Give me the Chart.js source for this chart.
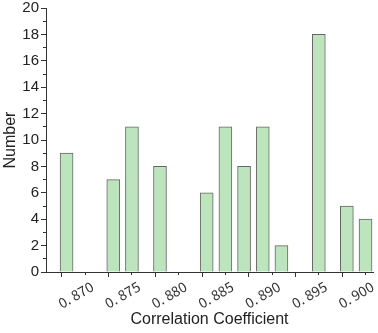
<!DOCTYPE html>
<html>
<head>
<meta charset="utf-8">
<script src="https://cdn.jsdelivr.net/npm/chart.js@4"></script>
<style>
  html, body { margin: 0; padding: 0; background: #fff; }
</style>
</head>
<body>
<canvas id="hist" width="378" height="333"></canvas>
<script>
// bin centres (correlation coefficient) and counts
const coeffs = [0.868, 0.873, 0.875, 0.878, 0.883, 0.885, 0.887, 0.889, 0.891, 0.895, 0.898, 0.900];
const counts = [9, 7, 11, 8, 6, 11, 8, 11, 2, 18, 5, 4];
// labelled x ticks, and the half-step minor ticks between them
const xTicks = [0.870, 0.875, 0.880, 0.885, 0.890, 0.895, 0.900];
const xMinorTicks = [0.8675, 0.8725, 0.8775, 0.8825, 0.8875, 0.8925, 0.8975];
const xMin = 0.8658, xMax = 0.9008;

const points = coeffs.map((c, i) => ({ x: c, y: counts[i] }));

const axisColor = '#333';

const ctx = document.getElementById('hist').getContext('2d');
const hist = new Chart(ctx, {
    type : 'bar',
    data : {
        datasets : [{
            label : 'Number',
            data : points,
            xAxisID : 'x',
            yAxisID : 'y',
            backgroundColor : '#bde5bd',
            borderColor : '#666',
            borderWidth : 1,
            barThickness : 13
        }]
    },
    options : {
        responsive : false,
        animation : false,
        layout : { padding : { top : 8, right : 5, left : 0, bottom : 0 } },
        plugins : { legend : { display : false }, tooltip : { enabled : false } },
        scales : {
            x : {
                type : 'linear',
                position : 'bottom',
                weight : 1,
                min : xMin, max : xMax,
                offset : false,
                border : { color : axisColor, width : 1 },
                grid : { drawOnChartArea : false, tickLength : 5, color : axisColor },
                afterBuildTicks : s => { s.ticks = xTicks.map(v => ({ value : v })); },
                ticks : {
                    minRotation : 30, maxRotation : 30,
                    padding : 1,
                    labelOffset : 7,
                    color : '#333',
                    font : { family : 'Noto Sans CJK SC', size : 14 },
                    callback : v => v.toFixed(3).replace('.', '. ')
                },
                title : {
                    display : true,
                    text : 'Correlation Coefficient',
                    color : '#222',
                    font : { family : 'Liberation Sans', size : 16 },
                    padding : { top : 0, bottom : 4 }
                },
                afterFit : s => { s.height = 61; s.paddingLeft = 0; s.paddingRight = 0; }
            },
            xMinor : {
                type : 'linear',
                position : 'bottom',
                weight : 0,
                min : xMin, max : xMax,
                offset : false,
                border : { display : false },
                grid : { drawOnChartArea : false, tickLength : 3, color : axisColor },
                afterBuildTicks : s => { s.ticks = xMinorTicks.map(v => ({ value : v })); },
                ticks : { display : false },
                afterFit : s => { s.height = 0; s.paddingLeft = 0; s.paddingRight = 0; }
            },
            y : {
                position : 'left',
                weight : 1,
                min : 0, max : 20,
                border : { color : axisColor, width : 1 },
                grid : { drawOnChartArea : false, tickLength : 5, color : axisColor },
                ticks : {
                    stepSize : 2,
                    padding : 2,
                    color : '#222',
                    font : { family : 'Liberation Sans', size : 15 }
                },
                title : {
                    display : true,
                    text : 'Number',
                    color : '#222',
                    font : { family : 'Liberation Sans', size : 16 },
                    padding : { top : 1, bottom : 0 }
                },
                afterFit : s => { s.width = 46; s.paddingTop = 0; s.paddingBottom = 0; }
            },
            yMinor : {
                position : 'left',
                weight : 0,
                min : 0, max : 20,
                border : { display : false },
                grid : { drawOnChartArea : false, tickLength : 3, color : axisColor },
                ticks : { stepSize : 1, display : false },
                afterFit : s => { s.width = 0; s.paddingTop = 0; s.paddingBottom = 0; }
            }
        }
    }
});
</script>
</body>
</html>
